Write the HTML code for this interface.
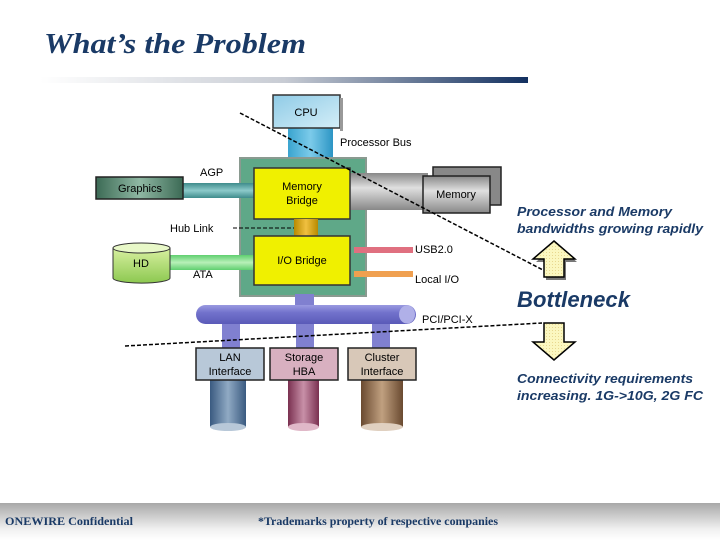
<!DOCTYPE html>
<html><head><style>body{margin:0;background:#fff}svg{display:block}</style></head><body>
<svg width="720" height="540" viewBox="0 0 720 540" xmlns="http://www.w3.org/2000/svg" font-family="Liberation Sans, Arial, sans-serif">
<defs>
<linearGradient id="tb" x1="0" x2="1"><stop offset="0" stop-color="#fff"/><stop offset="0.5" stop-color="#c8ccd4"/><stop offset="1" stop-color="#123060"/></linearGradient>
<linearGradient id="ft" x1="0" y1="0" x2="0" y2="1"><stop offset="0" stop-color="#a8a8a8"/><stop offset="0.7" stop-color="#f0f0f0"/><stop offset="1" stop-color="#fff"/></linearGradient>
<linearGradient id="cpu" x1="0" y1="0" x2="1" y2="1"><stop offset="0" stop-color="#8fcbe6"/><stop offset="1" stop-color="#d4eef8"/></linearGradient>
<linearGradient id="pb" x1="0" x2="1"><stop offset="0" stop-color="#3aa4cf"/><stop offset="0.5" stop-color="#7ccbea"/><stop offset="1" stop-color="#2c95c4"/></linearGradient>
<linearGradient id="mem" x1="0" y1="0" x2="0" y2="1"><stop offset="0" stop-color="#888"/><stop offset="0.4" stop-color="#e0e0e0"/><stop offset="1" stop-color="#888"/></linearGradient>
<linearGradient id="gr" x1="0" x2="1"><stop offset="0" stop-color="#3c6a55"/><stop offset="0.5" stop-color="#8fb8a3"/><stop offset="1" stop-color="#3c6a55"/></linearGradient>
<linearGradient id="agp" x1="0" y1="0" x2="0" y2="1"><stop offset="0" stop-color="#3f8c8c"/><stop offset="0.5" stop-color="#8ccaca"/><stop offset="1" stop-color="#3f8c8c"/></linearGradient>
<linearGradient id="ata" x1="0" y1="0" x2="0" y2="1"><stop offset="0" stop-color="#5fcf6f"/><stop offset="0.5" stop-color="#b8f0b8"/><stop offset="1" stop-color="#5fcf6f"/></linearGradient>
<linearGradient id="hd" x1="0" y1="0" x2="0" y2="1"><stop offset="0" stop-color="#d8f0a0"/><stop offset="1" stop-color="#8cc850"/></linearGradient>
<linearGradient id="pci" x1="0" y1="0" x2="0" y2="1"><stop offset="0" stop-color="#9a9ae0"/><stop offset="0.4" stop-color="#7272cc"/><stop offset="1" stop-color="#5a5ab8"/></linearGradient>
<linearGradient id="hub" x1="0" x2="1"><stop offset="0" stop-color="#b88a00"/><stop offset="0.5" stop-color="#f0c040"/><stop offset="1" stop-color="#b88a00"/></linearGradient>
<linearGradient id="c1" x1="0" x2="1"><stop offset="0" stop-color="#3a5a80"/><stop offset="0.5" stop-color="#90aac4"/><stop offset="1" stop-color="#3a5a80"/></linearGradient>
<linearGradient id="c2" x1="0" x2="1"><stop offset="0" stop-color="#7a3050"/><stop offset="0.5" stop-color="#c890a8"/><stop offset="1" stop-color="#7a3050"/></linearGradient>
<linearGradient id="c3" x1="0" x2="1"><stop offset="0" stop-color="#6a4a30"/><stop offset="0.5" stop-color="#c0a080"/><stop offset="1" stop-color="#6a4a30"/></linearGradient>
<pattern id="dots" width="3" height="3" patternUnits="userSpaceOnUse"><rect width="3" height="3" fill="#fbf7c0"/><rect width="1" height="1" fill="#e8d890"/></pattern>
</defs>
<text x="44" y="53" font-family="Liberation Serif, serif" font-style="italic" font-weight="bold" font-size="29" fill="#1a3a66" textLength="262" lengthAdjust="spacingAndGlyphs">What’s the Problem</text>
<rect x="40" y="77" width="488" height="6" fill="url(#tb)"/>
<rect x="0" y="503" width="720" height="37" fill="url(#ft)"/>
<text x="5" y="525" font-family="Liberation Serif, serif" font-weight="bold" font-size="12" fill="#1a3a66" textLength="128" lengthAdjust="spacingAndGlyphs">ONEWIRE Confidential</text>
<text x="258" y="525" font-family="Liberation Serif, serif" font-weight="bold" font-size="12" fill="#1a3a66" textLength="240" lengthAdjust="spacingAndGlyphs">*Trademarks property of respective companies</text>
<rect x="288" y="126" width="45" height="42" fill="url(#pb)"/>
<rect x="273" y="95" width="67" height="33" fill="url(#cpu)" stroke="#333" stroke-width="1.5"/>
<rect x="340" y="98" width="3" height="33" fill="#999"/>
<text x="306" y="116" font-size="11" text-anchor="middle" fill="#000">CPU</text>
<text x="340" y="146" font-size="11">Processor Bus</text>
<rect x="240" y="158" width="126" height="138" fill="#5fa888" stroke="#8a9a90" stroke-width="2"/>
<rect x="350" y="173" width="78" height="37" fill="url(#mem)"/>
<rect x="433" y="167" width="68" height="38" fill="#888" stroke="#222" stroke-width="1.5"/>
<rect x="423" y="176" width="67" height="37" fill="url(#mem)" stroke="#222" stroke-width="1.5"/>
<text x="456" y="198" font-size="11" text-anchor="middle">Memory</text>
<rect x="183" y="183" width="71" height="15" fill="url(#agp)"/>
<rect x="96" y="177" width="87" height="22" fill="url(#gr)" stroke="#222" stroke-width="1.5"/>
<text x="140" y="192" font-size="11" text-anchor="middle">Graphics</text>
<text x="200" y="176" font-size="11">AGP</text>
<rect x="254" y="168" width="96" height="51" fill="#f0f000" stroke="#333" stroke-width="1.5"/>
<text x="302" y="190" font-size="11" text-anchor="middle">Memory</text>
<text x="302" y="204" font-size="11" text-anchor="middle">Bridge</text>
<rect x="294" y="219" width="24" height="17" fill="url(#hub)"/>
<text x="170" y="232" font-size="11">Hub Link</text>
<line x1="233" y1="228" x2="294" y2="228" stroke="#000" stroke-dasharray="4,2"/>
<rect x="170" y="255" width="84" height="15" fill="url(#ata)"/>
<path d="M113 248 v30 a28 5 0 0 0 57 0 v-30" fill="url(#hd)" stroke="#333"/>
<ellipse cx="141.5" cy="248" rx="28.5" ry="5" fill="#e8f8c8" stroke="#333"/>
<text x="141" y="267" font-size="11" text-anchor="middle">HD</text>
<text x="193" y="278" font-size="11">ATA</text>
<rect x="254" y="236" width="96" height="49" fill="#f0f000" stroke="#333" stroke-width="1.5"/>
<text x="302" y="264" font-size="11" text-anchor="middle">I/O Bridge</text>
<rect x="354" y="247" width="59" height="6" fill="#e07080"/>
<rect x="354" y="271" width="59" height="6" fill="#f0a050"/>
<text x="415" y="253" font-size="11">USB2.0</text>
<text x="415" y="283" font-size="11">Local I/O</text>
<rect x="295" y="294" width="19" height="14" fill="#8080d0"/>
<rect x="222" y="320" width="18" height="30" fill="#8080d0"/>
<rect x="296" y="320" width="18" height="30" fill="#8080d0"/>
<rect x="372" y="320" width="18" height="30" fill="#8080d0"/>
<rect x="196" y="305" width="220" height="19" rx="9.5" fill="url(#pci)"/>
<ellipse cx="407" cy="314.5" rx="8" ry="9" fill="#b0b0e8"/>
<text x="422" y="323" font-size="11">PCI/PCI-X</text>
<rect x="210" y="380" width="36" height="47" fill="url(#c1)"/><ellipse cx="228" cy="427" rx="18" ry="4" fill="#b8c8d8"/>
<rect x="288" y="380" width="31" height="47" fill="url(#c2)"/><ellipse cx="303.5" cy="427" rx="15.5" ry="4" fill="#e0b8c8"/>
<rect x="361" y="380" width="42" height="47" fill="url(#c3)"/><ellipse cx="382" cy="427" rx="21" ry="4" fill="#e0d0c0"/>
<rect x="196" y="348" width="68" height="32" fill="#b8c8d8" stroke="#222" stroke-width="1.5"/>
<rect x="270" y="348" width="68" height="32" fill="#d8b0c0" stroke="#222" stroke-width="1.5"/>
<rect x="348" y="348" width="68" height="32" fill="#d8c8b8" stroke="#222" stroke-width="1.5"/>
<g font-size="11" text-anchor="middle">
<text x="230" y="361">LAN</text><text x="230" y="375">Interface</text>
<text x="304" y="361">Storage</text><text x="304" y="375">HBA</text>
<text x="382" y="361">Cluster</text><text x="382" y="375">Interface</text>
</g>
<line x1="240" y1="113" x2="543" y2="270" stroke="#000" stroke-width="1.5" stroke-dasharray="4,2"/>
<line x1="125" y1="346" x2="542" y2="323" stroke="#000" stroke-width="1.5" stroke-dasharray="4,2"/>
<g font-style="italic" font-weight="bold" fill="#1a3a66">
<text x="517" y="216" font-size="13" textLength="155" lengthAdjust="spacingAndGlyphs">Processor and Memory</text>
<text x="517" y="233" font-size="13" textLength="186" lengthAdjust="spacingAndGlyphs">bandwidths growing rapidly</text>
<text x="517" y="307" font-size="22" textLength="113" lengthAdjust="spacingAndGlyphs">Bottleneck</text>
<text x="517" y="383" font-size="13" textLength="176" lengthAdjust="spacingAndGlyphs">Connectivity requirements</text>
<text x="517" y="400" font-size="13" textLength="186" lengthAdjust="spacingAndGlyphs">increasing. 1G-&gt;10G, 2G FC</text>
</g>
<polygon points="556,244 577,262 566,262 566,280 546,280 546,262 536,262" fill="#777"/>
<polygon points="554,241 575,259 564,259 564,277 544,277 544,259 533,259" fill="url(#dots)" stroke="#000" stroke-width="1.5"/>
<polygon points="544,323 564,323 564,342 575,342 554,360 533,342 544,342" fill="url(#dots)" stroke="#000" stroke-width="1.5"/>
</svg>
</body></html>
